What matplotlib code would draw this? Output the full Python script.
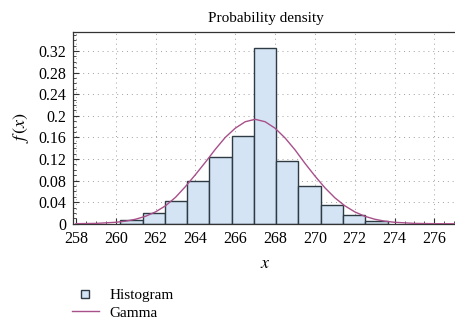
import matplotlib
matplotlib.use("Agg")
from matplotlib import pyplot as plt
from matplotlib.lines import Line2D
from matplotlib.ticker import MultipleLocator

# histogram bins (edges) and densities
bin_edges = [260.23, 261.35, 262.47, 263.58, 264.70, 265.82, 266.94,
             268.05, 269.17, 270.29, 271.41, 272.53, 273.65]
densities = [0.007, 0.020, 0.043, 0.080, 0.124, 0.162, 0.325,
             0.116, 0.070, 0.035, 0.016, 0.005]

# fitted gamma curve
gamma_x = [258, 259, 260, 260.5, 261, 261.5, 262, 262.5, 263, 263.5, 264,
           264.5, 265, 265.5, 266, 266.5, 267, 267.5, 268, 268.5, 269,
           269.5, 270, 270.5, 271, 271.5, 272, 272.5, 273, 273.5, 274,
           275, 276, 277]
gamma_y = [0.0002, 0.0007, 0.0028, 0.0049, 0.0085, 0.0140, 0.0221, 0.0334,
           0.0490, 0.0690, 0.0910, 0.114, 0.138, 0.160, 0.177, 0.189,
           0.1935, 0.189, 0.177, 0.159, 0.137, 0.112, 0.0886, 0.0668,
           0.0482, 0.0334, 0.0221, 0.0140, 0.0085, 0.0049, 0.0028,
           0.0007, 0.0002, 0.0]

plt.rcParams['font.family'] = ['Liberation Serif', 'DejaVu Serif']
plt.rcParams['mathtext.fontset'] = 'stix'

fig = plt.figure(figsize=(4.56, 3.22), dpi=100)
ax = fig.add_axes([0.160, 0.305, 0.845, 0.597])

bar_fill = '#d4e4f4'
edge = '#2e3a44'
curve = '#a8508a'

widths = [b - a for a, b in zip(bin_edges[:-1], bin_edges[1:])]
ax.bar(bin_edges[:-1], densities, width=widths, align='edge',
       color=bar_fill, edgecolor=edge, linewidth=1.0, zorder=2)
ax.plot(gamma_x, gamma_y, color=curve, linewidth=1.0, zorder=3)

ax.set_xlim(257.85, 277.2)
ax.set_ylim(0, 0.356)
ax.xaxis.set_major_locator(MultipleLocator(2))
ax.xaxis.set_minor_locator(MultipleLocator(0.5))
ax.yaxis.set_minor_locator(MultipleLocator(0.01))
ax.set_yticks([0, 0.04, 0.08, 0.12, 0.16, 0.2, 0.24, 0.28, 0.32])
ax.set_yticklabels(['0', '0.04', '0.08', '0.12', '0.16', '0.2', '0.24', '0.28', '0.32'])

ax.tick_params(which='both', direction='in', labelsize=11.5, top=False, right=False,
               color='#333333')
ax.tick_params(which='major', length=4, width=0.8, pad=5)
ax.tick_params(which='minor', length=2.5, width=0.6)
ax.grid(True, which='major', color='#a0a0a0', linestyle=(0, (1, 4)), linewidth=0.7, zorder=0)
ax.set_axisbelow(True)

for s in ['left', 'top', 'bottom']:
    ax.spines[s].set_color('#333333')
    ax.spines[s].set_linewidth(0.9)
ax.spines['right'].set_visible(False)

ax.set_title('Probability density', fontsize=11, pad=7)
ax.set_xlabel('$x$', fontsize=13, labelpad=6)
ax.set_ylabel('$f\\,(x)$', fontsize=13, labelpad=5)

handles = [
    Line2D([], [], linestyle='none', marker='s', markersize=6,
           markerfacecolor=bar_fill, markeredgecolor=edge, markeredgewidth=1.0),
    Line2D([], [], color=curve, linewidth=1.0),
]
fig.legend(handles, ['Histogram', 'Gamma'], loc='upper left',
           bbox_to_anchor=(0.158, 0.104), frameon=False, fontsize=11,
           handlelength=1.75, handletextpad=0.7, labelspacing=0.25,
           borderpad=0, borderaxespad=0)

fig.savefig('out.png', dpi=100)
